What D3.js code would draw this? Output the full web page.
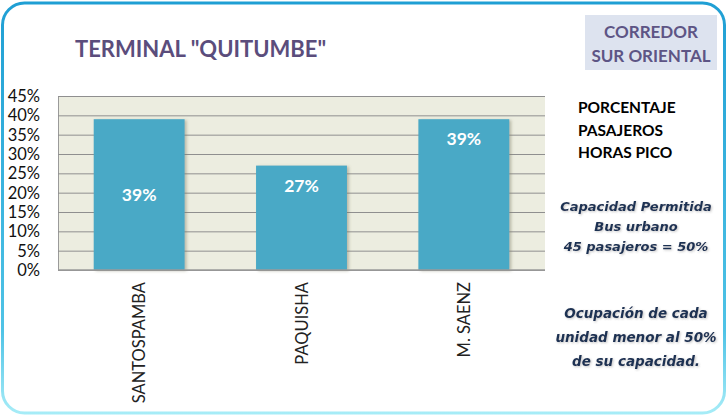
<!DOCTYPE html>
<html>
<head>
<meta charset="utf-8">
<script src="https://cdn.jsdelivr.net/npm/d3@7"></script>
<style>
  html, body { margin: 0; padding: 0; background: #fff; }
</style>
</head>
<body>
<div id="chart"></div>
<script>
const terminals = ["SANTOSPAMBA", "PAQUISHA", "M. SAENZ"];
const shares = [39, 27, 39];
const yTicks = [0, 5, 10, 15, 20, 25, 30, 35, 40, 45];
const titleText = 'TERMINAL "QUITUMBE"';
const corridorLines = ["CORREDOR", "SUR ORIENTAL"];
const headingLines = ["PORCENTAJE", "PASAJEROS", "HORAS PICO"];
const capacityLines = ["Capacidad Permitida", "Bus urbano", "45 pasajeros = 50%"];
const noteLines = ["Ocupación de cada", "unidad menor al 50%", "de su capacidad."];

const width = 728;
const height = 415;
const plot = { left: 58, right: 545, top: 96, bottom: 270 };

const svg = d3.create("svg")
  .attr("width", width)
  .attr("height", height)
  .attr("viewBox", [0, 0, width, height])
  .attr("style", "font-family: Lato, 'Open Sans', sans-serif;");

const defs = svg.append("defs");
const grad = defs.append("linearGradient")
  .attr("id", "frameGrad")
  .attr("x1", 0).attr("y1", 0).attr("x2", 0).attr("y2", 1);
grad.append("stop").attr("offset", "0%").attr("stop-color", "#1f9fd4");
grad.append("stop").attr("offset", "80%").attr("stop-color", "#4fc3e6");
grad.append("stop").attr("offset", "100%").attr("stop-color", "#a6ecf7");

defs.append("filter")
  .attr("id", "barShadow")
  .attr("x", "-10%").attr("y", "-10%").attr("width", "130%").attr("height", "130%")
  .append("feDropShadow")
  .attr("dx", 2).attr("dy", 1).attr("stdDeviation", 1.5)
  .attr("flood-color", "#7a7a60").attr("flood-opacity", 0.45);

defs.append("filter")
  .attr("id", "textShadow")
  .append("feDropShadow")
  .attr("dx", 1).attr("dy", 1).attr("stdDeviation", 0.8)
  .attr("flood-color", "#555").attr("flood-opacity", 0.35);

// outer frame
svg.append("rect")
  .attr("x", 2.5).attr("y", 3)
  .attr("width", width - 6).attr("height", height - 5)
  .attr("rx", 22)
  .attr("fill", "#fff")
  .attr("stroke", "url(#frameGrad)")
  .attr("stroke-width", 3);

// title
svg.append("text")
  .attr("x", 75).attr("y", 57)
  .attr("font-size", 22).attr("font-weight", "bold")
  .attr("fill", "#5b4d7c")
  .text(titleText);

// corridor box
svg.append("rect")
  .attr("x", 585).attr("y", 15)
  .attr("width", 132).attr("height", 55)
  .attr("fill", "#dde3ef");

svg.append("g")
  .attr("font-size", 17).attr("font-weight", "bold")
  .attr("fill", "#5d5585").attr("text-anchor", "middle")
  .selectAll("text")
  .data(corridorLines)
  .join("text")
  .attr("x", 651)
  .attr("y", (d, i) => 38 + i * 24)
  .text(d => d);

// scales
const x = d3.scaleBand()
  .domain(terminals)
  .range([plot.left, plot.right])
  .paddingInner(0.44)
  .paddingOuter(0.22);

const y = d3.scaleLinear()
  .domain([0, 45])
  .range([plot.bottom, plot.top]);

// plot background
svg.append("rect")
  .attr("x", plot.left).attr("y", plot.top)
  .attr("width", plot.right - plot.left)
  .attr("height", plot.bottom - plot.top)
  .attr("fill", "#ecede0");

// gridlines
svg.append("g")
  .attr("transform", `translate(${plot.left},0)`)
  .call(d3.axisLeft(y).tickValues(yTicks).tickSize(-(plot.right - plot.left)).tickFormat(""))
  .call(g => g.select(".domain").attr("stroke", "#9a9a9a"))
  .call(g => g.selectAll(".tick line").attr("stroke", "#8f8f8f"));

// y tick labels
svg.append("g")
  .attr("font-size", 16.5)
  .attr("fill", "#111")
  .attr("text-anchor", "end")
  .selectAll("text")
  .data(yTicks)
  .join("text")
  .attr("x", 40)
  .attr("y", d => y(d))
  .attr("dy", "0.36em")
  .text(d => d + "%");

// bars
svg.append("g")
  .selectAll("rect")
  .data(shares)
  .join("rect")
  .attr("x", (d, i) => x(terminals[i]))
  .attr("y", d => y(d))
  .attr("width", x.bandwidth())
  .attr("height", d => y(0) - y(d))
  .attr("fill", "#4aa9c6")
  .attr("filter", "url(#barShadow)");

// x axis line
svg.append("line")
  .attr("x1", plot.left).attr("x2", plot.right)
  .attr("y1", y(0)).attr("y2", y(0))
  .attr("stroke", "#9a9a9a").attr("stroke-width", 1.5);

// data labels (first one sits mid-bar, the others near the top)
svg.append("g")
  .attr("font-size", 17.5).attr("font-weight", "bold")
  .attr("fill", "#fff").attr("text-anchor", "middle")
  .selectAll("text")
  .data(shares)
  .join("text")
  .attr("x", (d, i) => x(terminals[i]) + x.bandwidth() / 2)
  .attr("y", (d, i) => i === 0 ? (y(d) + y(0)) / 2 : y(d) + 20)
  .attr("dy", "0.35em")
  .text(d => d + "%");

// category labels, rotated
svg.append("g")
  .attr("font-size", 16.5)
  .attr("fill", "#222")
  .attr("text-anchor", "end")
  .selectAll("text")
  .data(terminals)
  .join("text")
  .attr("transform", d => `translate(${x(d) + x.bandwidth() / 2 + 6},${plot.bottom + 12}) rotate(-90)`)
  .text(d => d);

// side heading
svg.append("g")
  .attr("font-size", 15.5).attr("font-weight", "bold")
  .attr("fill", "#000")
  .selectAll("text")
  .data(headingLines)
  .join("text")
  .attr("x", 578)
  .attr("y", (d, i) => 113 + i * 22.5)
  .text(d => d);

// capacity note
svg.append("g")
  .attr("font-family", "'DejaVu Sans', 'Noto Sans', sans-serif")
  .attr("font-size", 13).attr("font-weight", "bold").attr("font-style", "italic")
  .attr("fill", "#1f3152").attr("text-anchor", "middle")
  .attr("filter", "url(#textShadow)")
  .selectAll("text")
  .data(capacityLines)
  .join("text")
  .attr("x", 636)
  .attr("y", (d, i) => 211 + i * 20)
  .text(d => d);

// occupancy note
svg.append("g")
  .attr("font-family", "'DejaVu Sans', 'Noto Sans', sans-serif")
  .attr("font-size", 13.5).attr("font-weight", "bold").attr("font-style", "italic")
  .attr("fill", "#1f3152").attr("text-anchor", "middle")
  .attr("filter", "url(#textShadow)")
  .selectAll("text")
  .data(noteLines)
  .join("text")
  .attr("x", 636)
  .attr("y", (d, i) => 318 + i * 24)
  .text(d => d);

document.getElementById("chart").appendChild(svg.node());
</script>
</body>
</html>
